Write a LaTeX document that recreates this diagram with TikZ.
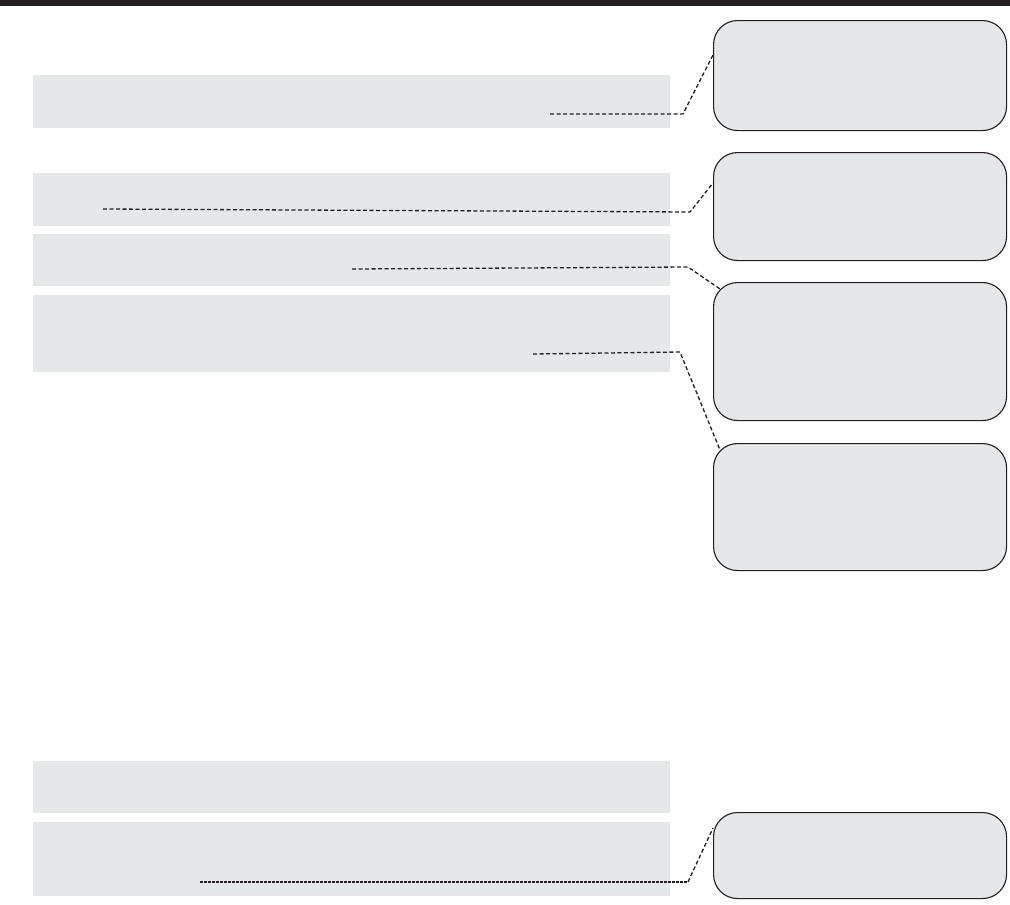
\documentclass[tikz,border=0pt]{standalone}
\usetikzlibrary{calc}
\definecolor{panel}{HTML}{E6E7E8}
\definecolor{barblack}{HTML}{231F20}
\tikzset{
  graybox/.style={fill=panel, draw=none, rectangle, anchor=north west, inner sep=0pt, minimum width=637pt},
  notebox/.style={fill=panel, draw=barblack, line width=1.1pt, rectangle, rounded corners=24pt, anchor=north west, inner sep=0pt, minimum width=293pt},
  leader/.style={draw=barblack, line width=1.3pt, dash pattern=on 4pt off 2.5pt},
  leaderdot/.style={draw=barblack, line width=1.3pt, dash pattern=on 2.5pt off 1.5pt},
}
\begin{document}
\begin{tikzpicture}[x=1pt,y=-1pt]
\useasboundingbox (0,0) rectangle (1010,905);
\fill[barblack] (0,0) rectangle (1010,6);
% left gray panels
\node[graybox, minimum height=53pt] (g1) at (33,75) {};
\node[graybox, minimum height=53pt] (g2) at (33,173) {};
\node[graybox, minimum height=52pt] (g3) at (33,234) {};
\node[graybox, minimum height=77pt] (g4) at (33,295) {};
\node[graybox, minimum height=52pt] (g5) at (33,761) {};
\node[graybox, minimum height=74pt] (g6) at (33,822) {};
% right note boxes
\node[notebox, minimum height=110pt] (n1) at (713,20) {};
\node[notebox, minimum height=108pt] (n2) at (713,152) {};
\node[notebox, minimum height=138pt] (n3) at (713,282) {};
\node[notebox, minimum height=127pt] (n4) at (713,443) {};
\node[notebox, minimum height=86pt] (n5) at (713,812) {};
% leader start points and bends
\coordinate (s1) at (550,114);  \coordinate (b1) at (683,114);
\coordinate (s2) at (103,209);  \coordinate (b2) at (690,212);
\coordinate (s3) at (352,269);  \coordinate (b3) at (688,267);
\coordinate (s4) at (533,354);  \coordinate (b4) at (680,352);
\coordinate (s5) at (200,882);  \coordinate (b5) at (688,882);
\draw[leader] (s1) -- (b1) -- (n1.west |- 0,55);
\draw[leader] (s2) -- (b2) -- (n2.west |- 0,183);
\draw[leader] (s3) -- (b3) -- ($(n3.north west)+(7,7)$);
\draw[leader] (s4) -- (b4) -- ($(n4.north west)+(7,7)$);
\draw[leaderdot] (s5) -- (b5);
\draw[leader] (b5) -- (n5.west |- 0,828);
\end{tikzpicture}
\end{document}
